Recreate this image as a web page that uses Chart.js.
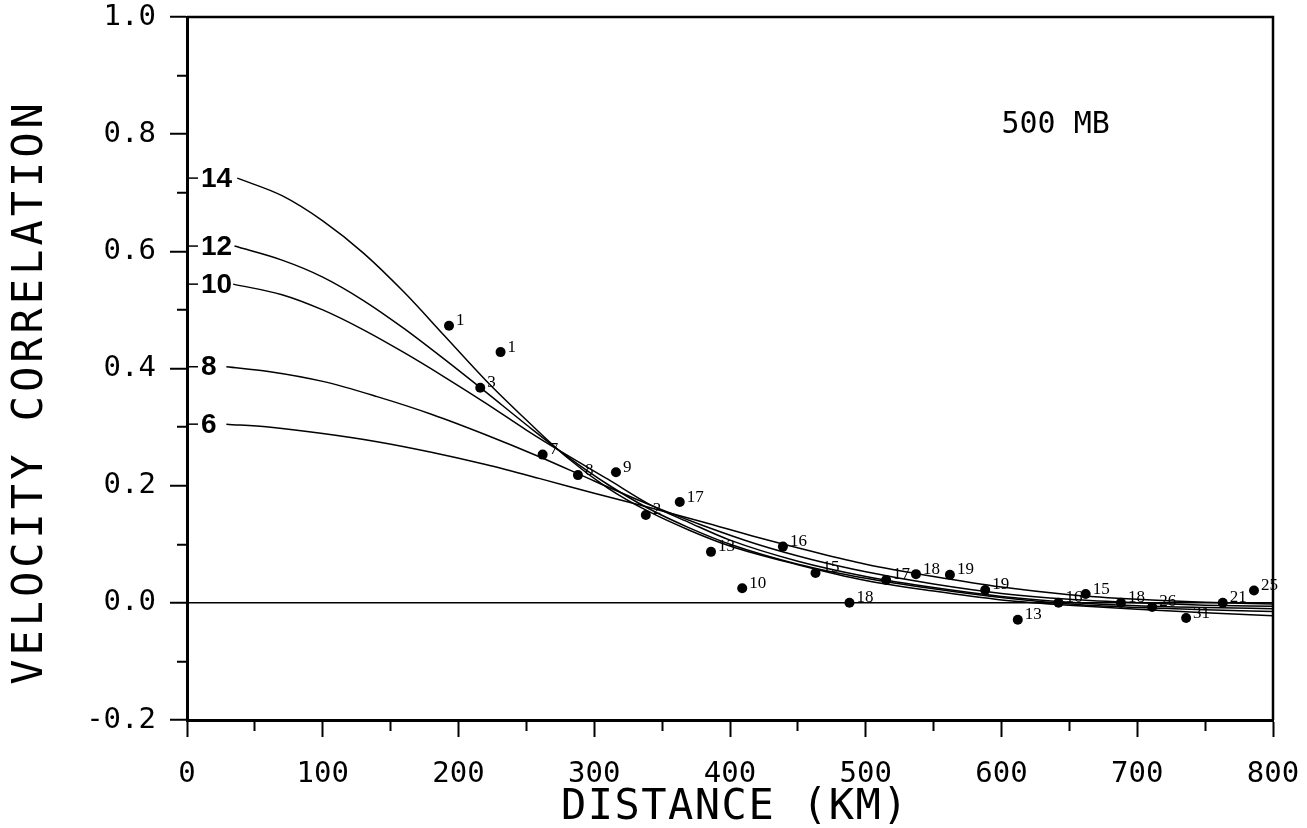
<!DOCTYPE html>
<html><head><meta charset="utf-8">
<script src="https://cdn.jsdelivr.net/npm/chart.js@4.4.1/dist/chart.umd.min.js"></script>
<style>html,body{margin:0;padding:0;background:#fff;}#wrap{width:1307px;height:828px;}</style>
</head><body><div id="wrap"><canvas id="c" width="1307" height="828"></canvas></div>
<script>
// ---- data ----
const curveNames = ['14', '12', '10', '8', '6'];
const c14x = [37, 70, 100, 130, 160, 190, 220, 250, 280, 310, 340, 370, 400, 450, 500, 550, 600, 650, 700, 750, 800];
const c14y = [0.725, 0.695, 0.652, 0.597, 0.530, 0.455, 0.380, 0.312, 0.248, 0.196, 0.156, 0.124, 0.097, 0.065, 0.038, 0.020, 0.005, -0.004, -0.011, -0.017, -0.022];
const c12x = [35, 70, 100, 130, 160, 190, 220, 250, 280, 310, 340, 370, 400, 450, 500, 550, 600, 650, 700, 750, 800];
const c12y = [0.609, 0.585, 0.556, 0.516, 0.468, 0.415, 0.360, 0.304, 0.250, 0.202, 0.161, 0.128, 0.100, 0.066, 0.042, 0.024, 0.009, -0.002, -0.008, -0.012, -0.015];
const c10x = [34, 70, 100, 130, 160, 190, 220, 250, 280, 310, 340, 370, 400, 450, 500, 550, 600, 650, 700, 750, 800];
const c10y = [0.544, 0.526, 0.500, 0.466, 0.427, 0.385, 0.341, 0.295, 0.252, 0.211, 0.169, 0.137, 0.107, 0.071, 0.045, 0.026, 0.011, 0.001, -0.005, -0.008, -0.010];
const c8x = [29, 60, 100, 140, 180, 220, 260, 300, 340, 380, 420, 460, 500, 550, 600, 650, 700, 750, 800];
const c8y = [0.403, 0.395, 0.378, 0.352, 0.322, 0.287, 0.249, 0.208, 0.168, 0.132, 0.100, 0.074, 0.053, 0.032, 0.016, 0.006, 0.0, -0.004, -0.006];
const c6x = [29, 60, 100, 140, 180, 220, 260, 300, 340, 380, 420, 460, 500, 550, 600, 650, 700, 750, 800];
const c6y = [0.305, 0.300, 0.289, 0.275, 0.257, 0.236, 0.212, 0.187, 0.163, 0.138, 0.112, 0.088, 0.066, 0.045, 0.027, 0.014, 0.006, 0.001, -0.002];

const ptDist = [193, 231, 216, 262, 288, 316, 338, 363, 386, 409, 439, 463, 488, 515, 537, 562, 588, 612, 642, 662, 688, 711, 736, 763, 786];
const ptCorr = [0.473, 0.428, 0.367, 0.253, 0.218, 0.223, 0.150, 0.172, 0.087, 0.025, 0.096, 0.051, 0.0, 0.039, 0.049, 0.048, 0.022, -0.029, 0.0, 0.015, 0.0, -0.007, -0.026, 0.0, 0.021];
const ptLabels = ['1', '1', '3', '7', '8', '9', '2', '17', '13', '10', '16', '15', '18', '17', '18', '19', '19', '13', '16', '15', '18', '26', '31', '21', '25'];

const xTickValues = [0, 100, 200, 300, 400, 500, 600, 700, 800];
const yTickValues = ['-0.2', '0.0', '0.2', '0.4', '0.6', '0.8', '1.0'];
const xTitle = 'DISTANCE (KM)';
const yTitle = 'VELOCITY CORRELATION';
const levelText = '500 MB';

// ---- build ----
const curveX = [c14x, c12x, c10x, c8x, c6x];
const curveY = [c14y, c12y, c10y, c8y, c6y];
const MONO = "'DejaVu Sans Mono', monospace";

const datasets = curveNames.map((name, i) => ({
  type: 'line',
  label: name,
  data: curveX[i].map((x, j) => ({x: x, y: curveY[i][j]})),
  borderColor: '#000',
  borderWidth: 1.5,
  pointRadius: 0,
  cubicInterpolationMode: 'monotone',
  fill: false
}));
datasets.push({
  type: 'scatter',
  label: 'obs',
  data: ptDist.map((d, i) => ({x: d, y: ptCorr[i]})),
  pointRadius: 5,
  pointBackgroundColor: '#000',
  pointBorderWidth: 0
});

const isMinorX = v => Math.round(v) % 100 !== 0;
const isMinorY = v => Math.round(v * 10) % 2 !== 0;

const annot = {
  id: 'annot',
  afterDatasetsDraw(chart) {
    const ctx = chart.ctx, a = chart.chartArea;
    const xs = chart.scales.x, ys = chart.scales.y;
    ctx.save();
    // frame (top & right)
    ctx.strokeStyle = '#000'; ctx.lineWidth = 2.5;
    ctx.beginPath();
    ctx.moveTo(a.left, a.top); ctx.lineTo(a.right, a.top); ctx.lineTo(a.right, a.bottom);
    ctx.stroke();
    // curve labels
    ctx.fillStyle = '#000';
    ctx.font = "bold 28px 'Liberation Sans', Arial, sans-serif";
    ctx.textBaseline = 'middle'; ctx.textAlign = 'left';
    curveNames.forEach((name, i) => {
      const y = ys.getPixelForValue(curveY[i][0]);
      ctx.lineWidth = 1.5;
      ctx.beginPath(); ctx.moveTo(a.left, y); ctx.lineTo(a.left + 11, y); ctx.stroke();
      ctx.fillText(name, a.left + 14, y + 1);
    });
    // point labels
    ctx.font = "17px 'Liberation Serif', serif";
    const meta = chart.getDatasetMeta(datasets.length - 1);
    meta.data.forEach((el, i) => {
      ctx.fillText(ptLabels[i], el.x + 7, el.y - 5);
    });
    // level label
    ctx.font = '30px ' + MONO;
    ctx.fillText(levelText, xs.getPixelForValue(600), ys.getPixelForValue(0.815));
    // axis titles
    ctx.font = '42px ' + MONO;
    ctx.textAlign = 'center';
    try { ctx.letterSpacing = '1.5px'; } catch (e) {}
    ctx.fillText(xTitle, (a.left + a.right) / 2 + 5, 808);
    try { ctx.letterSpacing = '4px'; } catch (e) {}
    ctx.translate(31, 392);
    ctx.rotate(-Math.PI / 2);
    ctx.fillText(yTitle, 0, 0);
    ctx.restore();
  }
};

new Chart(document.getElementById('c'), {
  data: {datasets},
  options: {
    responsive: false,
    devicePixelRatio: 1,
    animation: false,
    layout: {padding: {left: 0, right: 34, top: 17, bottom: 0}},
    plugins: {legend: {display: false}, tooltip: {enabled: false}},
    scales: {
      x: {
        type: 'linear', position: 'bottom', min: 0, max: 800,
        afterFit: s => { s.height = 108; s.paddingLeft = 0; s.paddingRight = 0; },
        ticks: {
          stepSize: 50, autoSkip: false, maxRotation: 0, padding: 20, color: '#000',
          font: {family: MONO, size: 29},
          callback: v => (xTickValues.includes(Math.round(v)) && !isMinorX(v)) ? String(Math.round(v)) : ''
        },
        grid: {
          drawOnChartArea: false, drawTicks: true, tickLength: 17, tickColor: '#000', tickWidth: 2,
          tickBorderDash: c => (c.tick && isMinorX(c.tick.value)) ? [9, 100] : []
        },
        border: {display: true, color: '#000', width: 3}
      },
      y: {
        type: 'linear', position: 'left', min: -0.2, max: 1.0,
        afterFit: s => { s.width = 187; s.paddingTop = 0; s.paddingBottom = 0; },
        ticks: {
          stepSize: 0.1, autoSkip: false, padding: 14, color: '#000',
          font: {family: MONO, size: 29},
          callback: v => {
            if (isMinorY(v)) return '';
            const s = (Math.round(v * 10) / 10).toFixed(1);
            return yTickValues.includes(s) ? s : '';
          }
        },
        grid: {
          drawOnChartArea: true, drawTicks: true, tickLength: 17, tickColor: '#000', tickWidth: 2,
          lineWidth: 1.5,
          color: c => (c.tick && Math.abs(c.tick.value) < 1e-6) ? '#000' : 'rgba(0,0,0,0)',
          tickBorderDash: c => (c.tick && isMinorY(c.tick.value)) ? [0, 7, 10, 100] : []
        },
        border: {display: true, color: '#000', width: 3}
      }
    }
  },
  plugins: [annot]
});
</script>
</body></html>
